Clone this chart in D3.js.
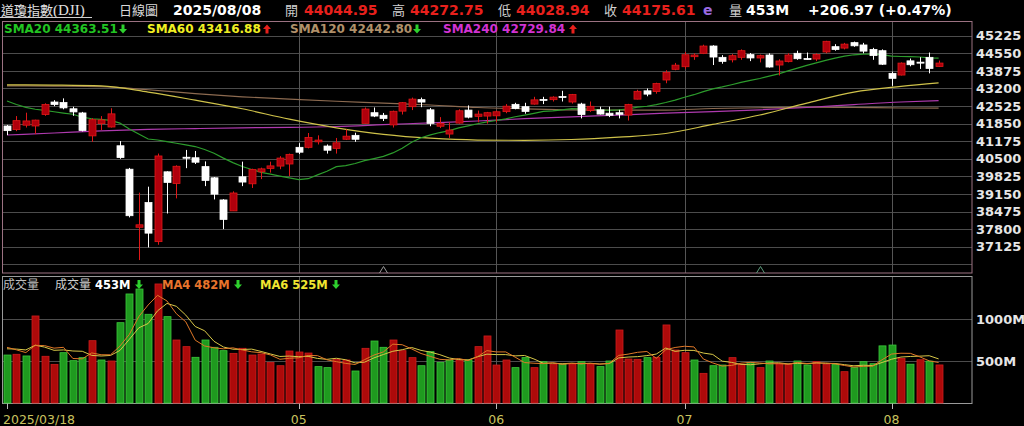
<!DOCTYPE html>
<html><head><meta charset="utf-8">
<script src="https://cdn.jsdelivr.net/npm/d3@7"></script>
<style>html,body{margin:0;padding:0;background:#000;overflow:hidden}</style>
</head><body><svg id="c" width="1024" height="426"></svg>
<script>
// ---------------- DATA ----------------
const dates = [
"2025/03/18","2025/03/19","2025/03/20","2025/03/21","2025/03/24","2025/03/25","2025/03/26","2025/03/27","2025/03/28","2025/03/31",
"2025/04/01","2025/04/02","2025/04/03","2025/04/04","2025/04/07","2025/04/08","2025/04/09","2025/04/10","2025/04/11","2025/04/14",
"2025/04/15","2025/04/16","2025/04/17","2025/04/21","2025/04/22","2025/04/23","2025/04/24","2025/04/25","2025/04/28","2025/04/29",
"2025/04/30","2025/05/01","2025/05/02","2025/05/05","2025/05/06","2025/05/07","2025/05/08","2025/05/09","2025/05/12","2025/05/13",
"2025/05/14","2025/05/15","2025/05/16","2025/05/19","2025/05/20","2025/05/21","2025/05/22","2025/05/23","2025/05/27","2025/05/28",
"2025/05/29","2025/05/30","2025/06/02","2025/06/03","2025/06/04","2025/06/05","2025/06/06","2025/06/09","2025/06/10","2025/06/11",
"2025/06/12","2025/06/13","2025/06/16","2025/06/17","2025/06/18","2025/06/20","2025/06/23","2025/06/24","2025/06/25","2025/06/26",
"2025/06/27","2025/06/30","2025/07/01","2025/07/02","2025/07/03","2025/07/07","2025/07/08","2025/07/09","2025/07/10","2025/07/11",
"2025/07/14","2025/07/15","2025/07/16","2025/07/17","2025/07/18","2025/07/21","2025/07/22","2025/07/23","2025/07/24","2025/07/25",
"2025/07/28","2025/07/29","2025/07/30","2025/07/31","2025/08/01","2025/08/04","2025/08/05","2025/08/06","2025/08/07","2025/08/08"];

const opens = [
41760,41620,41790,41760,42200,42680,42660,42420,42260,41380,
41850,41720,41000,40100,37870,38820,37320,40000,39550,40560,
40540,40200,39770,38920,38500,39810,39540,40000,40130,40220,
40300,40940,40940,41150,40990,40900,41250,41400,41860,42270,
42170,41800,42330,42500,42770,42380,41750,41450,41870,42370,
42130,42140,42150,42310,42590,42500,42600,42780,42770,42890,
42680,42600,42350,42380,42250,42270,42180,42790,43110,43080,
43525,43935,44035,44420,44550,44830,44395,44300,44395,44500,
44370,44485,44100,44230,44550,44350,44330,44600,44805,44750,
44960,44870,44700,44650,43780,43715,44260,44210,44395,44044.95];

const highs = [
41800,42140,42270,42000,42630,42750,42820,42500,42300,42060,
42140,42440,41180,40150,39200,39430,40700,40020,40250,40840,
40800,40400,39800,38950,39250,40390,40120,40160,40390,40600,
40700,41100,41490,41400,41050,41300,41630,41500,42470,42470,
42260,42350,42680,42850,42850,42450,42100,41900,42400,42550,
42350,42300,42350,42600,42650,42650,42880,42880,42900,43110,
42990,42650,42700,42500,42500,42380,42610,43150,43200,43420,
43900,44180,44600,44550,44880,44860,44480,44520,44700,44560,
44500,44550,44320,44550,44650,44580,44550,45030,44900,44950,
45000,44950,44760,44700,43850,44200,44350,44400,44580,44272.75];

const lows = [
41410,41560,41700,41450,42150,42520,42400,42150,41550,41150,
41600,41700,40500,38250,36612,37100,37200,38400,38980,40140,
40300,39450,38940,37800,38500,39450,39380,39720,39970,40100,
39840,40680,40900,41050,40700,40700,41220,41150,41860,42100,
41950,41700,42200,42370,42480,41750,41680,41300,41850,42050,
41900,41850,41900,42250,42400,42230,42580,42600,42700,42700,
42620,42050,42300,42200,42100,42050,41970,42780,42900,43000,
43400,43900,43950,44300,44520,44100,44150,44200,44300,44250,
44200,44000,43700,44200,44300,44300,44250,44550,44650,44700,
44800,44550,44300,44100,43300,43700,44050,43950,43780,44028.94];

const closes = [
41581.31,41964.63,41953.32,41985.35,42583.32,42587.50,42454.79,42299.70,41583.90,42001.76,
41989.96,42225.32,40545.93,38314.86,37965.60,37645.59,40608.45,39593.66,40212.71,40524.79,
40368.96,39669.39,39142.23,38170.41,39186.98,39606.57,40093.40,40113.50,40227.59,40527.62,
40669.36,40752.96,41317.43,41218.83,40829.00,41113.97,41368.45,41249.38,42410.10,42140.43,
42051.06,42322.75,42654.74,42792.07,42677.24,41860.44,41859.09,41603.07,42343.65,42098.70,
42215.73,42270.07,42305.48,42519.64,42427.74,42319.74,42762.87,42761.76,42866.87,42865.77,
42967.62,42197.79,42515.09,42215.80,42171.66,42206.82,42581.78,43089.02,42982.43,43386.84,
43819.27,44094.77,44494.94,44484.42,44828.53,44406.36,44240.76,44458.30,44650.64,44371.51,
44459.65,44023.29,44254.78,44484.49,44342.19,44323.07,44502.44,45010.29,44693.91,44901.92,
44837.56,44632.99,44461.28,44130.98,43588.58,44173.64,44111.74,44193.12,43968.64,44175.61];

// closes of the 19 sessions before 2025/03/18 (for SMA20 window)
const priorCloses = [44627.59,44176.65,43428.02,43461.21,43621.16,43433.12,43239.50,43840.91,43191.24,42520.99,
43006.59,42579.08,42801.72,41911.71,41433.48,41350.93,40813.57,41488.19,41841.63];

// volume in millions
const volumes = [
571,580,560,1036,556,460,599,504,540,742,
512,500,956,1298,1357,1056,1417,1028,750,671,
544,750,663,623,591,651,571,583,484,444,
619,607,595,433,421,520,512,381,651,738,
663,750,623,540,444,611,484,512,512,512,
671,798,452,512,421,540,421,492,464,464,
464,492,464,433,500,869,524,520,540,544,
929,631,599,512,353,444,452,540,460,484,
421,500,468,460,500,452,492,460,460,373,
421,492,468,680,690,532,462,515,498,453];
const priorVolumes = [600,620,700,690,690];

// long moving averages at sample sessions
const smaIdx    = [0,5,10,15,20,25,30,35,40,45,50,55,60,65,70,75,80,85,90,95,99];
const sma60     = [43340,43330,43300,43060,42750,42420,42020,41690,41440,41290,41220,41210,41240,41330,41470,41820,42180,42640,43060,43280,43417];
const sma120    = [43300,43290,43270,43150,43000,42880,42790,42710,42640,42565,42470,42420,42380,42370,42370,42430,42460,42480,42470,42450,42443];
const sma240    = [41413,41490,41570,41630,41660,41690,41705,41740,41810,41880,41950,42040,42110,42180,42250,42310,42380,42470,42580,42680,42730];

const priceTicks = [37125,37800,38475,39150,39825,40500,41175,41850,42525,43200,43875,44550,45225];
const priceGrid  = [36450,37125,37800,38475,39150,39825,40500,41175,41850,42525,43200,43875,44550,45225];
const volTicks   = [500,1000];
const volTickLabels = ["500M","1000M"];
const xTickDates  = ["2025/03/18","2025/05/01","2025/06/02","2025/07/01","2025/08/01"];
const xTickLabels = ["2025/03/18","05","06","07","08"];
const markerDates = ["2025/05/14","2025/07/14"];

// ---------------- DRAW ----------------
const svg = d3.select("#c");
svg.append("rect").attr("width",1024).attr("height",426).attr("fill","#000");

const L=3, R=972, mTop=21, mBot=273, vTop=276, vBot=403;
const x = d3.scalePoint().domain(dates).range([7, 938.6]);
const y = d3.scaleLinear().domain([37125,44550]).range([246.7,53.3]);
const yv = d3.scaleLinear().domain([0,1000]).range([vBot,319]);

const LAT = "'DejaVu Sans', Verdana, sans-serif";
const CJK = "'Noto Sans CJK TC','Noto Sans CJK SC',sans-serif";

// grids
const g = svg.append("g");
g.selectAll(".hg").data(priceGrid).join("line")
  .attr("x1",L).attr("x2",R).attr("y1",d=>Math.round(y(d))+0.5).attr("y2",d=>Math.round(y(d))+0.5)
  .attr("stroke","#4c4c4c").attr("stroke-width",1);
g.selectAll(".vg").data(volTicks).join("line")
  .attr("x1",L).attr("x2",R).attr("y1",d=>Math.round(yv(d))+0.5).attr("y2",d=>Math.round(yv(d))+0.5)
  .attr("stroke","#4c4c4c");
const monthDates = xTickDates.slice(1);
g.selectAll(".mv").data(monthDates).join("line")
  .attr("x1",d=>Math.round(x(d))+0.5).attr("x2",d=>Math.round(x(d))+0.5)
  .attr("y1",mTop).attr("y2",mBot).attr("stroke","#555");
g.selectAll(".mv2").data(monthDates).join("line")
  .attr("x1",d=>Math.round(x(d))+0.5).attr("x2",d=>Math.round(x(d))+0.5)
  .attr("y1",vTop).attr("y2",vBot).attr("stroke","#555");

// panel borders
svg.append("rect").attr("x",2.5).attr("y",21.5).attr("width",R-2.5).attr("height",mBot-21.5)
  .attr("fill","none").attr("stroke","#9c7282");
svg.append("rect").attr("x",2.5).attr("y",vTop+0.5).attr("width",R-2.5).attr("height",vBot-vTop)
  .attr("fill","none").attr("stroke","#9a9a9a");

// price axis labels
svg.append("g").selectAll("text").data(priceTicks).join("text")
  .attr("x",976).attr("y",d=>y(d)).attr("dy","0.36em")
  .attr("font-family",LAT).attr("font-weight","bold").attr("font-size",13)
  .attr("fill","#e6e6e6").text(d=>d);
svg.append("g").selectAll("text").data(volTicks).join("text")
  .attr("x",976).attr("y",d=>yv(d)).attr("dy","0.36em")
  .attr("font-family",LAT).attr("font-weight","bold").attr("font-size",13)
  .attr("fill","#e6e6e6").text((d,i)=>volTickLabels[i]);

// x axis ticks and labels
svg.append("g").selectAll("line").data(xTickDates).join("line")
  .attr("x1",d=>Math.round(x(d))+0.5).attr("x2",d=>Math.round(x(d))+0.5)
  .attr("y1",vBot).attr("y2",vBot+6).attr("stroke","#bbb");
svg.append("g").selectAll("text").data(xTickDates).join("text")
  .attr("x",(d,i)=> i===0 ? 3 : x(d)).attr("y",424)
  .attr("text-anchor",(d,i)=> i===0 ? "start" : "middle")
  .attr("font-family",LAT).attr("font-size",12.5).attr("fill","#c9c25e")
  .text((d,i)=>xTickLabels[i]);

// markers
svg.append("g").selectAll("path").data(markerDates).join("path")
  .attr("d",d=>{const cx=Math.round(x(d))+0.5;return `M${cx-4},273 L${cx},266.5 L${cx+4},273`;})
  .attr("fill","none").attr("stroke",(d,i)=>i===0?"#9a9a9a":"#5c9c7c").attr("stroke-width",1);

// moving average lines
const allCl = priorCloses.concat(closes);
const sma20 = closes.map((c,i)=>d3.mean(allCl.slice(i, i+20)));
const lineIdx = d3.line().x(d=>x(dates[d[0]])).y(d=>y(d[1])).curve(d3.curveMonotoneX);
const maG = svg.append("g").attr("fill","none").attr("stroke-width",1.2);
maG.append("path").attr("d",lineIdx(smaIdx.map((k,i)=>[k,sma120[i]]))).attr("stroke","#8c6a50");
maG.append("path").attr("d",lineIdx(smaIdx.map((k,i)=>[k,sma240[i]]))).attr("stroke","#ae3aae");
maG.append("path").attr("d",lineIdx(smaIdx.map((k,i)=>[k,sma60[i]]))).attr("stroke","#cfc24a");
maG.append("path").attr("d",d3.line().x((d,i)=>x(dates[i])).y(d=>y(d))(sma20)).attr("stroke","#2c9c2c");

// candles
const cg = svg.append("g");
dates.forEach((d,i)=>{
  const up = closes[i] > opens[i];
  const cx = Math.round(x(d));
  const fill = up ? "#b0000c" : "#ffffff";
  const edge = up ? "#e01818" : "#ffffff";
  cg.append("line").attr("x1",cx+0.5).attr("x2",cx+0.5).attr("y1",y(highs[i])).attr("y2",y(lows[i]))
    .attr("stroke",edge).attr("stroke-width",1);
  const top = y(Math.max(opens[i],closes[i])), bot = y(Math.min(opens[i],closes[i]));
  cg.append("rect").attr("x",cx-3).attr("y",top).attr("width",7).attr("height",Math.max(1,bot-top))
    .attr("fill",fill).attr("stroke",edge).attr("stroke-width",0.8);
});

// volume bars
const vg = svg.append("g");
dates.forEach((d,i)=>{
  const prev = i===0 ? priorCloses[priorCloses.length-1] : closes[i-1];
  const up = closes[i] >= prev;
  const cx = Math.round(x(d));
  vg.append("rect").attr("x",cx-3).attr("y",yv(volumes[i])).attr("width",7).attr("height",vBot-yv(volumes[i]))
    .attr("fill",up?"#ad0a0a":"#1f9a1f").attr("stroke",up?"#cc1c1c":"#3cc83c").attr("stroke-width",0.8);
});
const allV = priorVolumes.concat(volumes);
const ma4 = volumes.map((v,i)=>d3.mean(allV.slice(i+2,i+6)));
const ma6 = volumes.map((v,i)=>d3.mean(allV.slice(i,i+6)));
const vline = d3.line().x((d,i)=>x(dates[i])).y(d=>yv(d));
svg.append("path").attr("d",vline(ma6)).attr("fill","none").attr("stroke","#d8c848").attr("stroke-width",1);
svg.append("path").attr("d",vline(ma4)).attr("fill","none").attr("stroke","#e07828").attr("stroke-width",1);

// arrows
function arrow(ax, ay, up, color){
  const p = up
    ? `M${ax},${ay} L${ax+4},${ay+4.5} L${ax+1.5},${ay+4.5} L${ax+1.5},${ay+9} L${ax-1.5},${ay+9} L${ax-1.5},${ay+4.5} L${ax-4},${ay+4.5} Z`
    : `M${ax},${ay+9} L${ax+4},${ay+4.5} L${ax+1.5},${ay+4.5} L${ax+1.5},${ay} L${ax-1.5},${ay} L${ax-1.5},${ay+4.5} L${ax-4},${ay+4.5} Z`;
  svg.append("path").attr("d",p).attr("fill",color);
}
const RED="#e8201c", GRN="#2ed12e";

// header
const hdr = svg.append("g");
const t0 = hdr.append("text").attr("x",1).attr("y",15).attr("fill","#e0e0e0");
t0.append("tspan").attr("font-family",CJK).attr("font-size",13).text("道瓊指數");
t0.append("tspan").attr("font-family","'Liberation Serif',serif").attr("font-size",15).text("(DJI)");
hdr.append("line").attr("x1",0).attr("x2",92).attr("y1",17.5).attr("y2",17.5).attr("stroke","#cfcfcf");
function ht(tx, txt, col, cjk){
  hdr.append("text").attr("x",tx).attr("y",cjk?15:14.5).attr("fill",col)
    .attr("font-family",cjk?CJK:LAT).attr("font-weight",cjk?"normal":"bold")
    .attr("font-size",cjk?13:14).text(txt);
}
ht(119,"日線圖","#d8d8d8",true);
ht(173,"2025/08/08","#ffffff");
ht(285,"開","#d0d0d0",true);  ht(304,"44044.95",RED);
ht(392,"高","#d0d0d0",true);  ht(410,"44272.75",RED);
ht(498,"低","#d0d0d0",true);  ht(516,"44028.94",RED);
ht(604,"收","#d0d0d0",true);  ht(622,"44175.61",RED);
ht(703,"e","#9a6ae0");
ht(729,"量","#d0d0d0",true);  ht(746,"453M","#ffffff");
ht(808,"+206.97 (+0.47%)","#ffffff");

// SMA legend
function lt(tx, ty, txt, col, fs){
  svg.append("text").attr("x",tx).attr("y",ty).attr("fill",col).attr("font-family",LAT)
    .attr("font-weight","bold").attr("font-size",fs).text(txt);
}
lt(4,33,"SMA20 44363.51","#22c422",12); arrow(123,24.5,false,GRN);
lt(147,33,"SMA60 43416.88","#f0ee22",12); arrow(267,24.5,true,RED);
lt(290,33,"SMA120 42442.80","#b0906a",12); arrow(417,24.5,false,GRN);
lt(443,33,"SMA240 42729.84","#d232d2",12); arrow(573,24.5,true,RED);

// volume legend
svg.append("text").attr("x",3).attr("y",289).attr("fill","#bdbdbd").attr("font-family",CJK).attr("font-size",12).text("成交量");
svg.append("text").attr("x",55).attr("y",289).attr("fill","#cfcfcf").attr("font-family",CJK).attr("font-size",12).text("成交量");
lt(95,289,"453M","#ffffff",11.5); arrow(139,280,false,GRN);
lt(162,289,"MA4 482M","#e8742c",11.5); arrow(238,280,false,GRN);
lt(260,289,"MA6 525M","#f0e430",11.5); arrow(336,280,false,GRN);
</script></body></html>
